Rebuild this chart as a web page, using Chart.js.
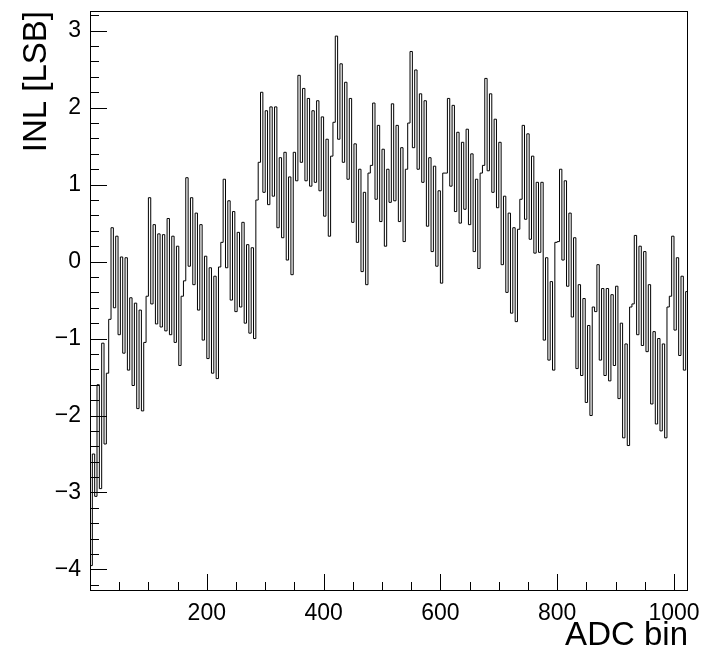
<!DOCTYPE html>
<html>
<head>
<meta charset="utf-8">
<title>INL vs ADC bin</title>
<script src="https://cdn.jsdelivr.net/npm/chart.js@4.4.0/dist/chart.umd.min.js"></script>
<style>
  html, body { margin: 0; padding: 0; background: #fff; }
</style>
</head>
<body>
<canvas id="inl" width="706" height="660"></canvas>
<script>
// INL per group of 4 ADC codes (pairs: trough, peak)
const binWidth = 4
const inlValues = [
  -3.95, -2.5,  -3.05, -1.6,  -2.95, -1.06, -2.37, -1.45,
  -0.75, 0.44,  -0.6, 0.33,   -0.95, 0.06,  -1.19, 0.05,
  -1.41, -0.47, -1.61, -0.54, -1.91, -0.63, -1.94, -1.05,
  -0.45, 0.83,  -0.55, 0.48,  -0.81, 0.36,  -0.85, 0.35,
  -0.9, 0.56,   -0.95, 0.33,  -1.05, 0.2,   -1.35, -0.45,
  -0.25, 1.09,  -0.06, 0.83,  -0.3, 0.63,   -0.63, 0.48,
  -1.02, 0.07,  -1.26, -0.08, -1.45, -0.19, -1.52, -0.07,
  0.25, 1.07,   -0.08, 0.79,  -0.5, 0.65,   -0.65, 0.38,
  -0.59, 0.51,  -0.8, 0.22,   -0.93, 0.18,  -1.0, 0.8,
  1.29, 2.2,    0.9, 1.96,    0.74, 2.01,   0.85, 2.01,
  0.44, 1.35,   0.31, 1.42,   0.02, 1.1,    -0.17, 1.42,
  1.05, 2.42,   1.29, 2.25,   1.05, 2.12,   0.98, 1.96,
  1.03, 2.09,   0.92, 1.88,   0.59, 1.59,   0.33, 1.37,
  1.81, 2.93,   1.59, 2.57,   1.29, 2.33,   1.07, 2.12,
  0.51, 1.53,   0.25, 1.2,    -0.13, 0.9,   -0.3, 1.15,
  1.25, 2.06,   0.81, 1.77,   0.52, 1.46,   0.2, 1.2,
  0.77, 2.05,   0.79, 1.77,   0.52, 1.48,   0.26, 1.2,
  1.8, 2.73,    1.48, 2.49,   1.2, 2.18,    1.03, 2.09,
  0.46, 1.35,   0.13, 1.24,   -0.06, 0.92,  -0.28, 1.15,
  1.15, 2.12,   0.98, 2.03,   0.65, 1.68,   0.5, 1.55,
  0.68, 1.72,   0.48, 1.4,    0.13, 1.07,   -0.09, 1.15,
  1.25, 2.38,   1.18, 2.18,   0.9, 1.85,    0.7, 1.55,
  -0.04, 0.85,  -0.4, 0.63,   -0.67, 0.44,  -0.78, 0.42,
  0.81, 1.77,   0.55, 1.66,   0.29, 1.37,   0.11, 1.03,
  0.12, 1.03,   -1.02, 0.05,  -1.28, -0.26, -1.41, 0.25,
  0.26, 1.2,    0.02, 1.05,   -0.32, 0.63,  -0.72, 0.31,
  -1.39, -0.3,  -1.48, -0.48, -1.83, -0.83, -2.0, -0.59,
  -0.65, -0.04, -1.28, -0.35, -1.48, -0.35, -1.55, -0.43,
  -1.35, -0.32, -1.78, -0.8,  -2.29, -1.07, -2.39, -0.59,
  -0.55, 0.34,  -0.95, 0.2,   -1.09, 0.13,  -1.17, -0.3,
  -1.85, -0.91, -2.11, -1.0,  -2.2, -1.07,  -2.29, -0.59,
  -0.45, 0.33,  -0.89, 0.05,  -1.22, -0.19, -1.41, -0.39
]
const xTickLabels = [200, 400, 600, 800, 1000]
const yTickLabels = [-4, -3, -2, -1, 0, 1, 2, 3]
const xRange = [0, 1024]
const yRange = [-4.28, 3.256]

const font = "'Liberation Sans', Arial, Helvetica, sans-serif"

// histogram outline: one point per bin low edge, plus the closing edge
let points = inlValues.map((v, i) => ({ x: i * binWidth, y: v }))
points.push({ x: inlValues.length * binWidth, y: inlValues[inlValues.length - 1] })

// keep the frame where it is in the picture, whatever the labels want
function fixBox(s, size) {
  if (s.isHorizontal()) s.height = size
  else s.width = size
  s.paddingTop = 0
  s.paddingBottom = 0
  s.paddingLeft = 0
  s.paddingRight = 0
}

// ROOT style frame with ticks pointing inside
const rootFrame = {
  id: 'rootFrame',
  afterDraw(chart) {
    const { ctx, chartArea: a, scales } = chart
    const x = scales.x, y = scales.y
    ctx.save()
    ctx.strokeStyle = '#000'
    ctx.lineWidth = 1
    ctx.strokeRect(a.left + 0.5, a.top + 0.5, a.right - a.left - 1, a.bottom - a.top - 1)
    ctx.beginPath()
    for (let i = 0; i * 50 <= xRange[1]; i++) {
      let px = Math.round(x.getPixelForValue(i * 50)) + 0.5
      let len = i % 4 === 0 ? 17 : 9
      ctx.moveTo(px, a.bottom)
      ctx.lineTo(px, a.bottom - len)
    }
    for (let i = -21; i <= 16; i++) {
      let py = Math.round(y.getPixelForValue(i / 5)) + 0.5
      let len = i % 5 === 0 ? 17 : 9
      ctx.moveTo(a.left, py)
      ctx.lineTo(a.left + len, py)
    }
    ctx.stroke()
    ctx.restore()
  }
}

new Chart(document.getElementById('inl').getContext('2d'), {
  type: 'line',
  data: {
    datasets: [{
      data: points,
      stepped: true,
      borderColor: '#000',
      borderWidth: 1,
      pointRadius: 0,
      fill: false
    }]
  },
  options: {
    responsive: false,
    animation: false,
    devicePixelRatio: 1,
    layout: { padding: { left: 0, top: 11, right: 18, bottom: 0 } },
    plugins: { legend: { display: false }, tooltip: { enabled: false } },
    scales: {
      x: {
        type: 'linear',
        min: xRange[0],
        max: xRange[1],
        afterBuildTicks: s => { s.ticks = xTickLabels.map(v => ({ value: v })) },
        afterFit: s => fixBox(s, 69),
        grid: { display: false, drawTicks: false },
        border: { display: false },
        ticks: {
          color: '#000',
          font: { family: font, size: 23 },
          padding: 9,
          maxRotation: 0,
          autoSkip: false,
          callback: v => String(v)
        },
        title: {
          display: true,
          text: 'ADC bin',
          align: 'end',
          color: '#000',
          font: { family: font, size: 33 },
          padding: { top: 0, bottom: 4 }
        }
      },
      y: {
        type: 'linear',
        min: yRange[0],
        max: yRange[1],
        afterBuildTicks: s => { s.ticks = yTickLabels.map(v => ({ value: v })) },
        afterFit: s => fixBox(s, 90),
        grid: { display: false, drawTicks: false },
        border: { display: false },
        ticks: {
          color: '#000',
          font: { family: font, size: 23 },
          padding: 9,
          callback: v => v < 0 ? '\u2212' + Math.abs(v) : String(v)
        },
        title: {
          display: true,
          text: 'INL [LSB]',
          align: 'end',
          color: '#000',
          font: { family: font, size: 33 },
          padding: { top: 17, bottom: 0 }
        }
      }
    }
  },
  plugins: [rootFrame]
})
</script>
</body>
</html>
